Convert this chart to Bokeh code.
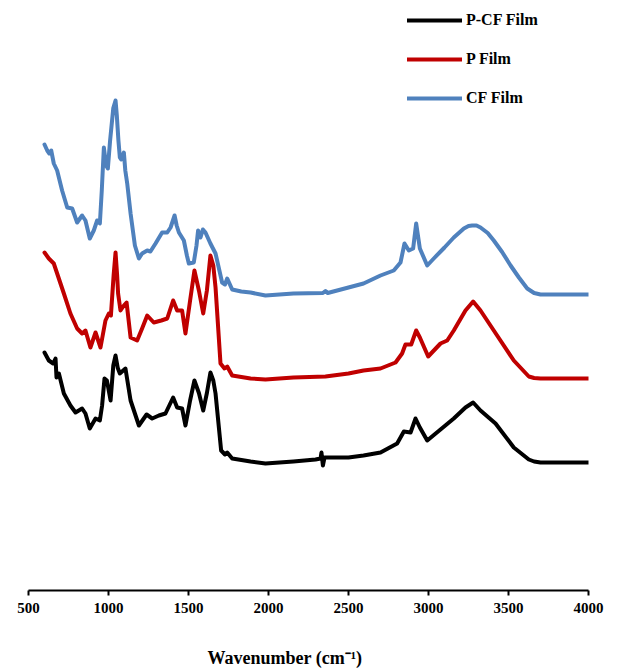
from bokeh.plotting import figure
from bokeh.models import Range1d, Legend, LegendItem, Title, FixedTicker
from bokeh.embed import file_html
from bokeh.resources import INLINE

# Wavenumber (cm-1) and relative intensity (arbitrary units, offset per film)
cf_x = [600, 617, 630, 642, 658, 679, 710, 742, 773, 804, 835, 856, 883, 908, 929, 946,
        958, 971, 985, 996, 1010, 1030, 1044, 1052, 1062, 1071, 1079, 1096, 1105, 1117, 1138, 1165, 1190, 1210, 1242, 1262,
        1294, 1335, 1367, 1388, 1413, 1426, 1440, 1471, 1490, 1502, 1533, 1550, 1560, 1575, 1590, 1606, 1637, 1669,
        1710, 1728, 1742, 1773, 1830, 1888, 1981, 2156, 2340, 2356, 2370, 2500, 2594, 2700, 2783, 2825,
        2850, 2877, 2904, 2923, 2946, 2992, 3033, 3100, 3158, 3221, 3250, 3273, 3300, 3325, 3370, 3408, 3460,
        3513, 3565, 3617, 3660, 3700, 4000]
cf_y = [89.2, 88.0, 87.4, 88.0, 85.4, 84.0, 80.0, 76.6, 76.4, 73.6, 75.0, 74.0, 70.4, 72.0, 74.0, 73.4,
        80.0, 88.6, 85.0, 84.4, 90.0, 96.5, 98.0, 95.0, 90.0, 86.6, 86.2, 87.6, 84.0, 81.4, 75.4, 69.0, 66.4, 67.4, 68.0, 67.8,
        69.4, 71.6, 71.6, 72.6, 75.0, 73.0, 71.6, 70.0, 67.0, 65.4, 65.6, 69.0, 72.0, 70.6, 72.2, 71.6, 69.4, 67.4,
        61.6, 61.2, 62.4, 60.2, 59.8, 59.6, 59.0, 59.4, 59.5, 59.9, 59.5, 60.6, 61.4, 63.0, 64.0, 65.6,
        69.4, 68.0, 68.4, 73.4, 68.4, 65.0, 66.4, 68.6, 70.6, 72.4, 72.9, 73.0, 73.0, 72.6, 71.5, 70.0, 67.7,
        65.0, 62.6, 60.4, 59.5, 59.2, 59.2]

p_x = [600, 627, 658, 679, 721, 762, 804, 835, 856, 887, 919, 950, 981, 1002, 1015, 1032,
       1044, 1054, 1060, 1075, 1096, 1113, 1138, 1179, 1210, 1242, 1283, 1330, 1367, 1404, 1429,
       1460, 1481, 1510, 1537, 1565, 1592, 1615, 1637, 1655, 1669, 1700, 1725, 1742, 1773, 1888, 1981, 2156, 2356,
       2500, 2594, 2700, 2794, 2835, 2856, 2892, 2923, 2946, 2998, 3075, 3117, 3158, 3231, 3279, 3325,
       3408, 3533, 3627, 3660, 3700, 4000]
p_y = [67.6, 66.4, 65.4, 63.4, 59.4, 55.4, 52.4, 51.4, 52.0, 48.6, 51.6, 48.6, 54.0, 55.4, 55.0, 63.0,
       67.6, 63.0, 59.4, 56.0, 57.0, 57.6, 50.6, 50.0, 52.4, 55.0, 53.6, 54.0, 54.4, 58.0, 56.0,
       56.0, 51.4, 58.0, 64.0, 60.0, 55.4, 60.0, 67.0, 65.0, 60.6, 45.4, 44.4, 44.8, 43.0, 42.4, 42.2, 42.6, 42.8,
       43.4, 44.0, 44.4, 45.6, 47.4, 49.2, 49.2, 52.0, 50.6, 46.8, 49.4, 50.0, 52.0, 56.0, 57.8, 56.0,
       52.0, 46.0, 42.8, 42.5, 42.4, 42.4]

pcf_x = [600, 627, 654, 669, 675, 690, 721, 762, 794, 835, 856, 883, 919, 946, 960, 975, 990,
         1013, 1030, 1044, 1058, 1071, 1106, 1138, 1190, 1238, 1273, 1315, 1356, 1404, 1429, 1460, 1481,
         1510, 1537, 1565, 1592, 1615, 1637, 1655, 1669, 1704, 1728, 1742, 1773, 1888, 1981, 2156, 2294, 2325, 2331,
         2340, 2350, 2500, 2594, 2700, 2804, 2846, 2888, 2919, 2946, 2992, 3075, 3158, 3231, 3279,
         3325, 3419, 3533, 3627, 3660, 3700, 4000]
pcf_y = [47.6, 46.0, 45.4, 46.4, 42.6, 43.4, 39.4, 37.0, 35.6, 36.4, 35.4, 32.4, 34.4, 34.0, 37.0, 42.4, 42.0,
         38.0, 45.0, 47.0, 44.5, 43.4, 44.4, 38.0, 33.0, 35.2, 34.4, 35.0, 35.4, 38.6, 36.6, 36.4, 33.0,
         38.0, 42.0, 39.5, 36.0, 39.5, 43.6, 42.0, 39.4, 28.0, 27.2, 27.6, 26.4, 25.8, 25.4, 25.8, 26.2, 26.4, 27.6,
         25.0, 26.6, 26.6, 27.0, 27.6, 29.4, 31.8, 31.6, 34.4, 32.6, 30.0, 32.2, 34.4, 36.6, 37.6,
         36.0, 33.4, 28.6, 26.2, 25.8, 25.6, 25.6]

series_names = ["P-CF Film", "P Film", "CF Film"]
series_colors = ["#000000", "#C00000", "#4F81BD"]
x_ticks = [500, 1000, 1500, 2000, 2500, 3000, 3500, 4000]

FONT = "Liberation Serif"

p = figure(width=620, height=670, output_backend="svg", toolbar_location=None,
           x_range=Range1d(500, 4000), y_range=Range1d(0, 116.4),
           min_border_left=28, min_border_right=32, min_border_top=8, min_border_bottom=80)
p.yaxis.visible = False
p.xgrid.visible = False
p.ygrid.visible = False
p.outline_line_color = None
p.background_fill_color = "white"
p.border_fill_color = "white"

r_pcf = p.line(pcf_x, pcf_y, line_color=series_colors[0], line_width=4, line_join="round", line_cap="round")
r_p = p.line(p_x, p_y, line_color=series_colors[1], line_width=4, line_join="round", line_cap="round")
r_cf = p.line(cf_x, cf_y, line_color=series_colors[2], line_width=4, line_join="round", line_cap="round")

ax = p.xaxis[0]
ax.ticker = FixedTicker(ticks=x_ticks)
ax.axis_line_color = "black"
ax.axis_line_width = 2
ax.major_tick_line_color = "black"
ax.major_tick_line_width = 2
ax.major_tick_out = 5
ax.major_tick_in = 0
ax.minor_tick_line_color = None
ax.major_label_text_font = FONT
ax.major_label_text_font_style = "bold"
ax.major_label_text_font_size = "15px"
ax.major_label_text_color = "black"
ax.major_label_standoff = 7
# spacer below the tick labels so the title sits near the bottom edge
ax.axis_label = " "
ax.axis_label_text_font_size = "1px"
ax.axis_label_standoff = 28

title = Title(text="Wavenumber (cm\u207b\u00b9)", align="left", offset=179,
              vertical_align="top",
              text_font=FONT, text_font_style="bold", text_font_size="18px",
              text_color="black", standoff=0)
p.add_layout(title, "below")

legend = Legend(items=[LegendItem(label=series_names[0], renderers=[r_pcf]),
                       LegendItem(label=series_names[1], renderers=[r_p]),
                       LegendItem(label=series_names[2], renderers=[r_cf])],
                location=(379, 482), orientation="vertical",
                glyph_width=55, glyph_height=20, label_height=20, spacing=19,
                padding=0, margin=0, label_standoff=4,
                label_text_font=FONT, label_text_font_style="bold",
                label_text_font_size="16px", label_text_color="black",
                border_line_color=None, background_fill_alpha=0)
p.add_layout(legend)

open("out.html", "w").write(file_html(p, INLINE))
